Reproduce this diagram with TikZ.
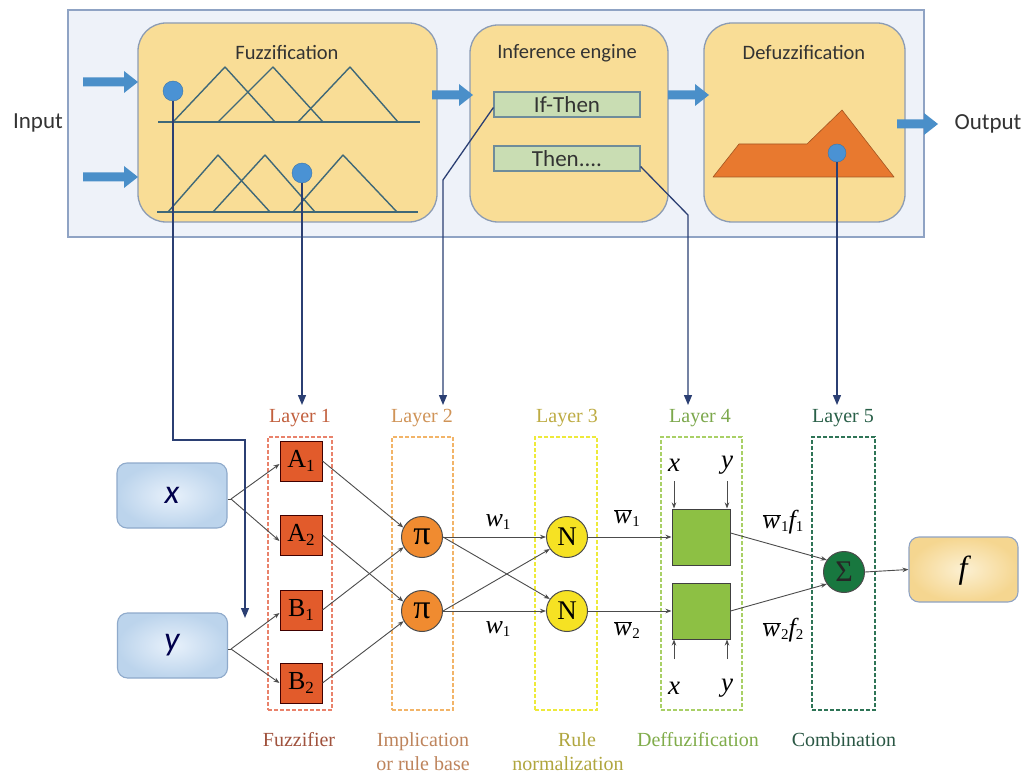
\documentclass[tikz,border=0pt]{standalone}
\usepackage{fontspec}
\setmainfont{Liberation Serif}
\newfontfamily\calib{Carlito}
\usetikzlibrary{arrows.meta,calc}

\definecolor{panelfill}{HTML}{EEF2F9}
\definecolor{panelline}{HTML}{8FA3C4}
\definecolor{stagefill}{HTML}{F9DD96}
\definecolor{stageline}{HTML}{8C9CB4}
\definecolor{mfline}{HTML}{3F6878}
\definecolor{dotblue}{HTML}{4A92D4}
\definecolor{arrowblue}{HTML}{4A8FC9}
\definecolor{rulefill}{HTML}{C9DDB3}
\definecolor{ruleline}{HTML}{6F8C9A}
\definecolor{defuzzorange}{HTML}{E8792F}
\definecolor{navy}{HTML}{2B3F73}
\definecolor{toptext}{HTML}{333333}
\definecolor{lay1}{HTML}{E9826B}
\definecolor{lay1t}{HTML}{C2603E}
\definecolor{lay2}{HTML}{F2B468}
\definecolor{lay2t}{HTML}{D09458}
\definecolor{lay3}{HTML}{EEEA3A}
\definecolor{lay3t}{HTML}{BEAC44}
\definecolor{lay4}{HTML}{A9D066}
\definecolor{lay4t}{HTML}{7CA84C}
\definecolor{lay5}{HTML}{2E7456}
\definecolor{lay5t}{HTML}{2A6049}
\definecolor{cap1}{HTML}{A0523D}
\definecolor{cap2}{HTML}{BE845C}
\definecolor{cap3}{HTML}{B0A63E}
\definecolor{cap4}{HTML}{80AC4A}
\definecolor{cap5}{HTML}{2A5744}
\definecolor{mfill}{HTML}{E25B2B}
\definecolor{pifill}{HTML}{F08B30}
\definecolor{nfill}{HTML}{F6E223}
\definecolor{sqfill}{HTML}{8DC044}
\definecolor{sigfill}{HTML}{18773F}
\definecolor{xyin}{HTML}{E8F1FB}
\definecolor{xyout}{HTML}{BCD4EC}
\definecolor{xyline}{HTML}{8FAACB}
\definecolor{fin}{HTML}{FCF0D2}
\definecolor{fout}{HTML}{F5D690}

% thick blue block arrow: from x=#1 to x=#2 at height #3
\newcommand\blockarr[3]{\fill[arrowblue] (#1,#3-4.5) -- (#2-14,#3-4.5) -- (#2-14,#3-11) -- (#2,#3) -- (#2-14,#3+11) -- (#2-14,#3+4.5) -- (#1,#3+4.5) -- cycle;}
\newcommand\lsub[1]{{\fontsize{17}{18}\selectfont\raisebox{-4pt}{#1}}}
\newcommand\wsub[1]{{\upshape\fontsize{15}{16}\selectfont\raisebox{-3pt}{#1}}}
\newcommand\wbar{$\overline{\hbox{\itshape w\kern1pt}}$}

\begin{document}
\begin{tikzpicture}[x=1pt,y=-1pt,
  stagebox/.style={draw=stageline, fill=stagefill, line width=1.3pt, rounded corners=28pt, inner sep=0},
  title/.style={font=\calib\fontsize{20.5}{24}\selectfont, text=toptext, inner sep=0},
  rulebox/.style={draw=ruleline, fill=rulefill, line width=1.2pt, minimum width=146pt, minimum height=25pt, inner sep=0, font=\calib\fontsize{23}{26}\selectfont, text=toptext},
  mf/.style={draw=mfline, line width=1.4pt, line join=round},
  dotnode/.style={circle, fill=dotblue, draw=dotblue!80!black, line width=0.4pt, minimum size=20pt, inner sep=0},
  link/.style={draw=navy, line width=1.3pt, -{Triangle[length=10pt,width=8pt]}},
  layerbox/.style={draw, dash pattern=on 4pt off 2pt, line width=1.2pt, minimum width=#1, minimum height=273pt, inner sep=0},
  laylabel/.style={font=\fontsize{20}{22}\selectfont, inner sep=0},
  caption/.style={font=\fontsize{20}{24}\selectfont, align=center, inner sep=0},
  mnode/.style={draw=black!75!red, line width=1pt, fill=mfill, minimum width=42pt, minimum height=40pt, inner sep=0, font=\fontsize{26}{28}\selectfont},
  cnode/.style={circle, draw=black!70, line width=1pt, minimum size=41pt, inner sep=0, font=\fontsize{27}{28}\selectfont},
  sqnode/.style={draw=black!75, line width=1pt, fill=sqfill, minimum width=58pt, minimum height=56pt, inner sep=0},
  conn/.style={draw=black!70, line width=0.9pt, -{Stealth[length=6pt,width=4.5pt]}},
  xybox/.style={draw=xyline, line width=1.1pt, rounded corners=10pt, inner color=xyin, outer color=xyout, minimum width=110pt, minimum height=65pt, inner sep=0},
  wlab/.style={font=\fontsize{26}{28}\selectfont\itshape, inner sep=0},
  varlab/.style={font=\fontsize{27}{28}\selectfont\itshape, inner sep=0}
]
\useasboundingbox (0,0) rectangle (1030,775);
\fill[white] (0,0) rectangle (1030,775);

% ---------- fuzzy inference system ----------
\node[draw=panelline, fill=panelfill, line width=1.3pt, minimum width=856pt, minimum height=227pt, inner sep=0] (panel) at (496,123.5) {};

\node[stagebox, minimum width=299pt, minimum height=199pt] (fuzz) at (287.5,122.5) {};
\node[stagebox, minimum width=198pt, minimum height=197pt] (infer) at (569,123.5) {};
\node[stagebox, minimum width=201pt, minimum height=199pt] (defuzz) at (804.5,122.5) {};

\node[title] (tfuzz) at (287,52) {Fuzzification};
\node[title] (tinfer) at (567,53) {Inference engine};
\node[title] (tdefuzz) at (804,52) {Defuzzification};

\node[font=\calib\fontsize{23}{26}\selectfont, text=toptext, inner sep=0] (input) at (38,123) {Input};
\node[font=\calib\fontsize{23}{26}\selectfont, text=toptext, inner sep=0] (output) at (988,124) {Output};

\blockarr{83}{138}{82}
\blockarr{83}{138}{177}
\blockarr{432}{473}{95}
\blockarr{668}{709}{95}
\blockarr{897}{938}{124}

% membership functions
\draw[mf] (158,122) -- (420,122);
\draw[mf] (173,122) -- (225,67) -- (275,122);
\draw[mf] (218,122) -- (273,67) -- (323,122);
\draw[mf] (298,122) -- (350,67) -- (398,122);
\draw[mf] (157,212) -- (418,212);
\draw[mf] (168,212) -- (218,155) -- (270,212);
\draw[mf] (213,212) -- (265,155) -- (315,212);
\draw[mf] (293,212) -- (343,155) -- (397,212);

\node[rulebox] (ifthen) at (567,104.5) {If-Then};
\node[rulebox] (thenr) at (567,158.5) {Then....};

% aggregated output set
\filldraw[fill=defuzzorange, draw=defuzzorange!70!black, line width=0.6pt, line join=round]
  (713,177) -- (739,144) -- (807,144) -- (842,110) -- (894,177) -- cycle;

% ---------- ANFIS layers ----------
\node[layerbox=64pt, draw=lay1] (box1) at (300,573.5) {};
\node[layerbox=61pt, draw=lay2] (box2) at (422.5,573.5) {};
\node[layerbox=62pt, draw=lay3] (box3) at (566,573.5) {};
\node[layerbox=81pt, draw=lay4] (box4) at (701.5,573.5) {};
\node[layerbox=63pt, draw=lay5] (box5) at (843.5,573.5) {};

\node[laylabel, text=lay1t] (L1) at (300,418) {Layer 1};
\node[laylabel, text=lay2t] (L2) at (422,418) {Layer 2};
\node[laylabel, text=lay3t] (L3) at (567,418) {Layer 3};
\node[laylabel, text=lay4t] (L4) at (700,418) {Layer 4};
\node[laylabel, text=lay5t] (L5) at (843,418) {Layer 5};

\node[caption, text=cap1] (c1) at (299,740) {Fuzzifier};
\node[caption, text=cap2] (c2) at (423,752) {Implication\\or rule base};
\node[caption, text=cap3] (c3) at (568,752) {\hspace*{18pt}Rule\\normalization};
\node[caption, text=cap4] (c4) at (698,740) {Deffuzification};
\node[caption, text=cap5] (c5) at (844,740) {Combination};

\node[xybox] (xin) at (172,495.5) {};
\node[varlab, font=\calib\itshape\fontsize{34}{36}\selectfont, text=black!70!blue] (xl) at (172,495) {x};
\node[xybox] (yin) at (172.5,645.5) {};
\node[varlab, font=\calib\itshape\fontsize{34}{36}\selectfont, text=black!70!blue] (yl) at (172,645) {y};

\node[mnode] (A1) at (301,461) {A\lsub{1}};
\node[mnode] (A2) at (301,535) {A\lsub{2}};
\node[mnode] (B1) at (301,610) {B\lsub{1}};
\node[mnode] (B2) at (301,683) {B\lsub{2}};

\node[cnode, fill=pifill, font=\fontsize{34}{34}\selectfont] (p1) at (422,537) {π};
\node[cnode, fill=pifill, font=\fontsize{34}{34}\selectfont] (p2) at (422,611) {π};
\node[cnode, fill=nfill] (n1) at (567,537) {N};
\node[cnode, fill=nfill] (n2) at (567,611) {N};
\node[sqnode] (s1) at (701,537) {};
\node[sqnode] (s2) at (701,611) {};
\node[cnode, fill=sigfill, font=\fontsize{30}{30}\selectfont, text=black!85] (sig) at (844,572) {Σ};

\node[draw=panelline, line width=1.1pt, rounded corners=10pt, inner color=fin, outer color=fout, minimum width=109pt, minimum height=65pt, inner sep=0] (fout) at (963.5,569.5) {};
\node[varlab, font=\fontsize{32}{34}\selectfont\itshape] (fl) at (963,571) {f};

% inputs to membership nodes
\coordinate (xb) at (231,499);
\coordinate (yb) at (231,649);
\draw[black!70, line width=0.9pt] (xin.east |- xb) -- (xb);
\draw[black!70, line width=0.9pt] (yin.east |- yb) -- (yb);
\draw[conn] (xb) -- ([yshift=-3pt]A1.west);
\draw[conn] (xb) -- ([yshift=-6pt]A2.west);
\draw[conn] (yb) -- ([yshift=-3pt]B1.west);
\draw[conn] (yb) -- (B2.west);

\draw[conn] (A1.east) -- (p1.153);
\draw[conn] (B1.east) -- (p1.209);
\draw[conn] (A2.east) -- (p2.153);
\draw[conn] (B2.east) -- (p2.209);

\draw[conn] (p1.east) -- (n1.west);
\draw[conn] (p1.east) -- (n2.145);
\draw[conn] (p2.east) -- (n1.215);
\draw[conn] (p2.east) -- (n2.west);

\draw[conn] (n1.east) -- (s1.west);
\draw[conn] (n2.east) -- (s2.west);
\draw[conn] ([yshift=4pt]s1.east) -- (sig.145);
\draw[conn] (s2.east) -- (sig.215);
\draw[conn] (sig.east) -- (fout.west);

% consequent inputs
\node[varlab] (x4a) at (674,465) {x};
\node[varlab] (y4a) at (727,465) {y};
\node[varlab] (x4b) at (674,688) {x};
\node[varlab] (y4b) at (727,688) {y};
\draw[conn] (674,481) -- (s1.north west -| x4a);
\draw[conn] (727,481) -- (s1.north east -| y4a);
\draw[conn] (674,659) -- (s2.south west -| x4b);
\draw[conn] (727,659) -- (s2.south east -| y4b);

% signal labels
\node[wlab] (w1a) at (498,522) {w\wsub{1}};
\node[wlab] (w1b) at (498,629) {w\wsub{1}};
\node[wlab] (wb1) at (627,518) {\wbar\wsub{1}};
\node[wlab] (wb2) at (627,630) {\wbar\wsub{2}};
\node[wlab] (wf1) at (783,522) {\wbar\wsub{1}f\wsub{1}};
\node[wlab] (wf2) at (783,630) {\wbar\wsub{2}f\wsub{2}};

% ---------- links between the two views ----------
\node[dotnode] (dot1) at (173,91) {};
\node[dotnode] (dot2) at (302,173) {};
\node[dotnode, minimum size=18pt] (dot3) at (837,153) {};

\coordinate (k1) at (173,440);
\coordinate (k2) at (245,440);
\coordinate (in0) at (245,618);
\coordinate (in1) at (302,405);
\coordinate (k3) at (443,180);
\coordinate (in2) at (443,405);
\coordinate (k4) at (688,215);
\coordinate (in4) at (688,405);
\coordinate (in5) at (838,405);

\draw[link] (dot1.south) -- (k1) -- (k2) -- (in0);
\draw[link] (dot2.south) -- (in1);
\draw[link] ([yshift=-3pt]ifthen.west) -- (k3) -- (in2);
\draw[link] ([yshift=-8pt]thenr.east) -- (k4) -- (in4);
\draw[link] (dot3.south) -- (dot3.south |- in5);
\end{tikzpicture}
\end{document}
